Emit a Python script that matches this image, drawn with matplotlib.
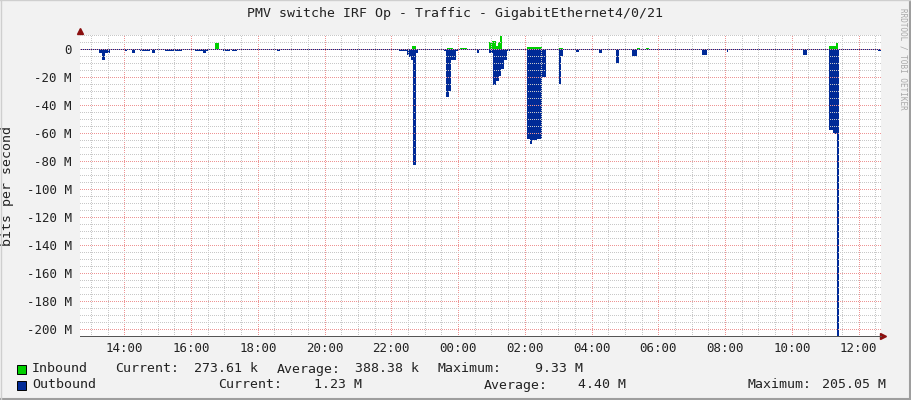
import matplotlib
matplotlib.use("Agg")
import matplotlib.pyplot as plt
from matplotlib.ticker import FixedLocator, MultipleLocator, FuncFormatter
from matplotlib.lines import Line2D
from matplotlib.patches import Rectangle

# outbound traffic in Mbit/s (drawn below zero), each value holds until the next stamp
out_times = ["12:40", "13:15", "13:20", "13:25", "13:35", "14:00", "14:05", "14:14", "14:19",
             "14:28", "14:46", "14:50", "14:55", "15:13", "15:44", "16:07", "16:21", "16:27",
             "16:30", "16:58", "17:10", "17:14", "17:23", "18:15", "18:27", "18:35", "18:40",
             "19:14", "19:21", "20:15", "20:20", "21:15", "21:20", "21:34", "21:38", "22:01",
             "22:12", "22:14", "22:28", "22:32", "22:35", "22:39", "22:44", "22:48", "23:04",
             "23:08", "23:13", "23:22", "23:35", "23:39", "23:44", "23:47", "23:56", "00:02",
             "00:34", "00:38", "00:56", "01:02", "01:08", "01:13", "01:17", "01:22", "01:28",
             "01:33", "02:04", "02:09", "02:13", "02:22", "02:31", "02:38", "02:40", "03:01",
             "03:06", "03:09", "03:19", "03:32", "03:37", "03:57", "04:10", "04:13", "04:19",
             "04:44", "04:49", "05:13", "05:22", "06:03", "06:08", "06:48", "07:15", "07:19",
             "07:27", "07:33", "07:38", "08:03", "08:05", "08:27", "08:50", "09:01", "10:15",
             "10:20", "10:27", "10:38", "10:56", "11:03", "11:07", "11:14", "11:17", "11:21",
             "11:25", "11:27", "11:39", "11:44", "12:26", "12:35", "12:40"]
out_vals = [0.6, 3, 8, 3, 0.6, 1.5, 0.6, 2.5, 0.6,
            1.3, 0.6, 3, 0.6, 1.5, 0.6, 1.2, 3, 1.2,
            0.6, 1.2, 0.6, 1.2, 0.6, 1.0, 0.6, 1.3, 0.6,
            1.0, 0.6, 1.0, 0.6, 1.0, 0.6, 1.0, 0.6, 1.0,
            0.6, 1.2, 4, 6, 8, 83, 3, 0.6, 1.0,
            0.6, 1.0, 0.6, 1.5, 34, 30, 8, 1.5, 0.6,
            2.5, 0.6, 2.5, 26, 22.5, 19, 14, 7.5, 1.5,
            0.6, 64.5, 67.5, 65, 64, 20, 1, 0.6, 25,
            5, 1, 0.6, 2, 0.6, 1, 0.6, 3, 0.6,
            10, 0.6, 5, 0.6, 1, 0.6, 1, 0.6, 4.5,
            0.6, 1, 0.6, 2, 0.6, 1, 0.6, 1, 0.6,
            4.5, 1, 0.6, 1, 0.6, 58, 60, 61, 205,
            1, 0.6, 1, 0.6, 1, 1.23, 1.23]

# inbound traffic in Mbit/s (drawn above zero)
in_times = ["12:40", "16:43", "16:50", "22:37", "22:44", "23:40", "23:51", "00:03", "00:16",
            "00:56", "01:01", "01:08", "01:12", "01:15", "01:19", "02:04", "02:31", "03:01",
            "03:08", "05:22", "05:27", "05:38", "05:43", "11:07", "11:19", "11:23", "12:40"]
in_vals = [0.3, 4.3, 0.3, 2.4, 0.3, 1, 0.3, 1, 0.3,
           4.8, 5.7, 2.4, 5.0, 9.33, 0.3, 1.6, 0.3, 1,
           0.3, 1, 0.3, 1, 0.3, 2, 4.5, 0.3, 0.27]

hour_ticks = list(range(14, 37, 2))

c_in = "#00CF00"
c_out = "#002A97"
mono = "DejaVu Sans Mono"


def to_hours(stamps):
    # clock strings -> hours since midnight of the first day
    res, day, prev = [], 0, None
    for s in stamps:
        h, m = s.split(":")
        v = int(h) + int(m) / 60
        if prev is not None and v < prev:
            day += 24
        prev = v
        res.append(v + day)
    return res


t_out = to_hours(out_times)
t_in = to_hours(in_times)

fig = plt.figure(figsize=(9.11, 4.0), dpi=100, facecolor="#F2F2F2")
ax = fig.add_axes([80 / 911, 64 / 400, 801 / 911, 301 / 400])
ax.set_facecolor("white")

ax.fill_between(t_in, in_vals, 0, step="post", color=c_in, lw=0, zorder=2)
ax.fill_between(t_out, [-v for v in out_vals], 0, step="post", color=c_out, lw=0, zorder=2)

ax.set_xlim(12 + 40.4 / 60, 36 + 40.4 / 60)
ax.set_ylim(-205, 10)

ax.xaxis.set_major_locator(FixedLocator(hour_ticks))
ax.xaxis.set_minor_locator(MultipleLocator(0.5))
ax.xaxis.set_major_formatter(FuncFormatter(lambda v, p: f"{int(round(v)) % 24:02d}:00"))
ax.yaxis.set_major_locator(FixedLocator(range(-200, 1, 20)))
ax.yaxis.set_minor_locator(MultipleLocator(5))
ax.yaxis.set_major_formatter(FuncFormatter(lambda v, p: "0" if v == 0 else f"{int(v)} M"))

# rrdtool draws its dotted grid over the graph
ax.set_axisbelow(False)
ax.grid(which="minor", color="#C8C8C8", lw=0.72, linestyle=(0, (1, 2)), antialiased=False, zorder=3)
ax.grid(which="major", color="#EE9494", lw=0.72, linestyle=(0, (1, 2)), antialiased=False, zorder=3)

ax.tick_params(which="both", length=0)
ax.tick_params(axis="x", pad=4, labelsize=9, colors="#222222")
ax.tick_params(axis="y", pad=6, labelsize=9, colors="#222222")
for lab in ax.get_xticklabels() + ax.get_yticklabels():
    lab.set_family(mono)

for side in ["top", "right", "left"]:
    ax.spines[side].set_visible(False)
ax.spines["bottom"].set_color("#555555")
ax.spines["bottom"].set_linewidth(0.72)

# rrdtool style axis arrows
ax.plot([0], [1.013], marker="^", ms=4, color="#8B1010", transform=ax.transAxes, clip_on=False)
ax.plot([1.003], [0], marker=">", ms=4, color="#8B1010", transform=ax.transAxes, clip_on=False)

ax.set_ylabel("bits per second", family=mono, fontsize=9.5, color="#222222", labelpad=9)
fig.text(455 / 911, 1 - 14 / 400, "PMV switche IRF Op - Traffic - GigabitEthernet4/0/21",
         family=mono, fontsize=9.5, ha="center", va="center", color="#222222")
fig.text(903 / 911, 1 - 8 / 400, "RRDTOOL / TOBI OETIKER", family=mono, fontsize=5.5,
         rotation=-90, ha="center", va="top", color="#A8A8A8")

# legend rows
rows = [
    (369, c_in, [(32, "Inbound"), (115, "Current:"), (194, "273.61 k"), (277, "Average:"),
                 (355, "388.38 k"), (438, "Maximum:"), (535, "9.33 M")]),
    (385, c_out, [(32, "Outbound"), (218, "Current:"), (314, "1.23 M"), (484, "Average:"),
                  (578, "4.40 M"), (748, "Maximum:"), (822, "205.05 M")]),
]
for y, col, items in rows:
    fig.add_artist(Rectangle((17 / 911, 1 - (y + 5) / 400), 9 / 911, 9 / 400,
                             transform=fig.transFigure, facecolor=col, edgecolor="black", lw=0.7))
    for x, s in items:
        fig.text(x / 911, 1 - y / 400, s, family=mono, fontsize=9.5, ha="left", va="center",
                 color="#222222")

# frame shading around the canvas
fig.add_artist(Line2D([0, 1], [0.0015, 0.0015], transform=fig.transFigure, color="#9E9E9E", lw=1.5))
fig.add_artist(Line2D([0.999, 0.999], [0, 1], transform=fig.transFigure, color="#9E9E9E", lw=1.5))
fig.add_artist(Line2D([0, 1], [0.999, 0.999], transform=fig.transFigure, color="#CFCFCF", lw=1))
fig.add_artist(Line2D([0.0006, 0.0006], [0, 1], transform=fig.transFigure, color="#CFCFCF", lw=1))

fig.savefig("out.png", dpi=100, facecolor=fig.get_facecolor())
